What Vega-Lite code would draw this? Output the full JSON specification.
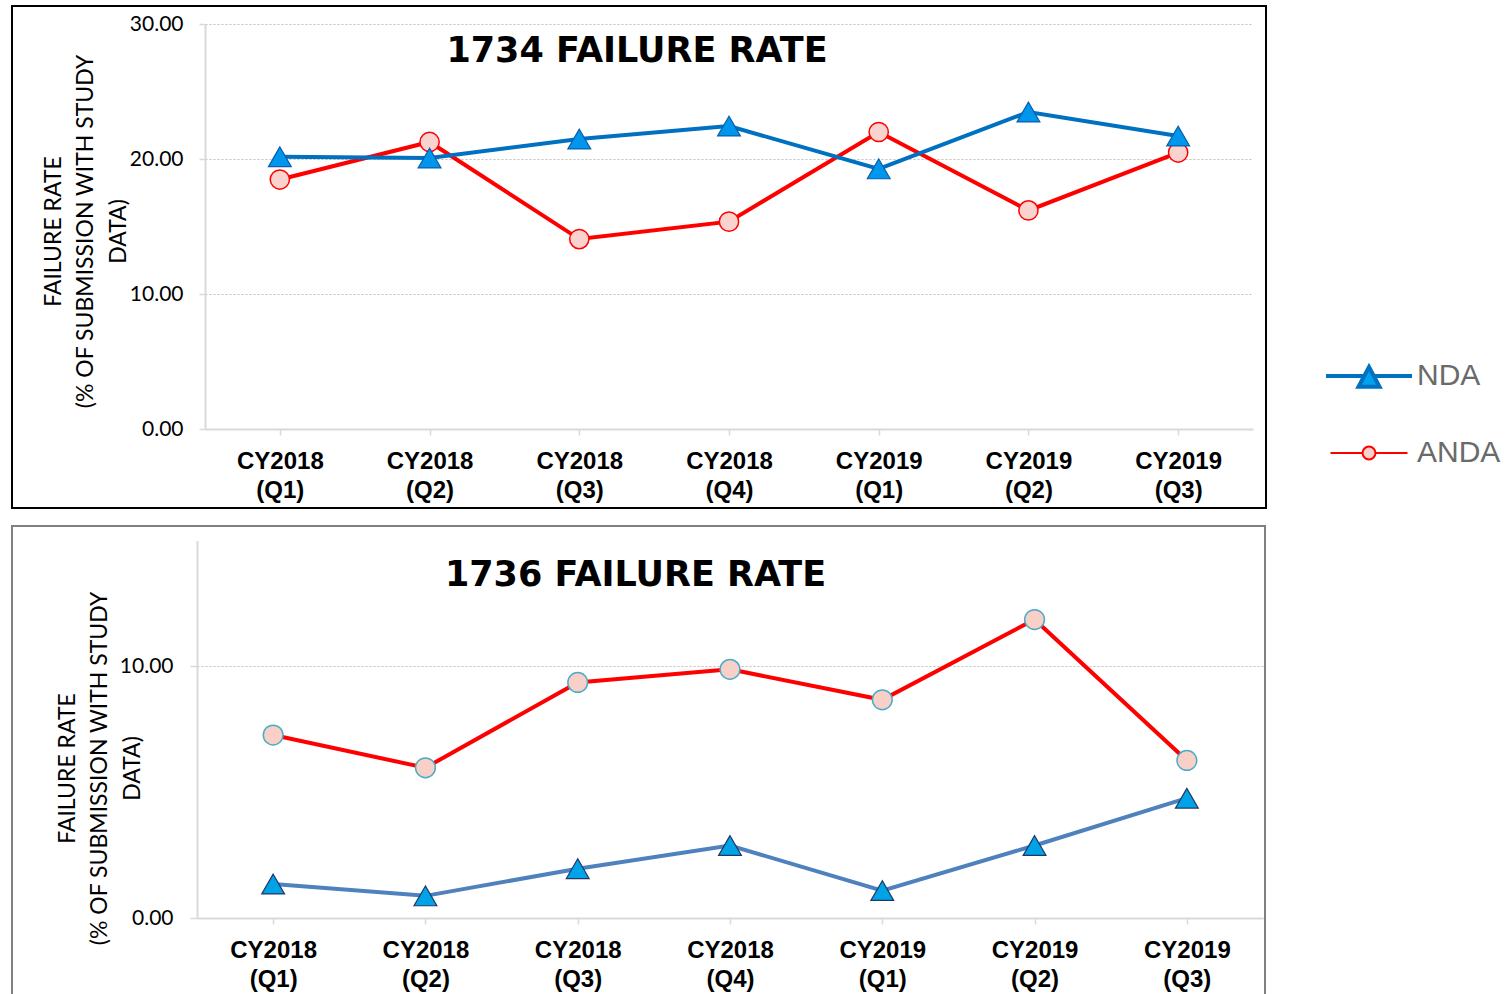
{
  "$schema": "https://vega.github.io/schema/vega-lite/v6.json",
  "background": "white",
  "padding": {"left": 11, "top": 5, "right": 0, "bottom": 0},
  "spacing": 16,
  "datasets": {
    "d1734": [
      {"period": "CY2018 (Q1)", "series": "NDA", "value": 20.17},
      {"period": "CY2018 (Q2)", "series": "NDA", "value": 20.07},
      {"period": "CY2018 (Q3)", "series": "NDA", "value": 21.48},
      {"period": "CY2018 (Q4)", "series": "NDA", "value": 22.44},
      {"period": "CY2019 (Q1)", "series": "NDA", "value": 19.27},
      {"period": "CY2019 (Q2)", "series": "NDA", "value": 23.48},
      {"period": "CY2019 (Q3)", "series": "NDA", "value": 21.7},
      {"period": "CY2018 (Q1)", "series": "ANDA", "value": 18.48},
      {"period": "CY2018 (Q2)", "series": "ANDA", "value": 21.26},
      {"period": "CY2018 (Q3)", "series": "ANDA", "value": 14.07},
      {"period": "CY2018 (Q4)", "series": "ANDA", "value": 15.36},
      {"period": "CY2019 (Q1)", "series": "ANDA", "value": 22.0},
      {"period": "CY2019 (Q2)", "series": "ANDA", "value": 16.19},
      {"period": "CY2019 (Q3)", "series": "ANDA", "value": 20.48}
    ],
    "d1736": [
      {"period": "CY2018 (Q1)", "series": "NDA", "value": 1.35},
      {"period": "CY2018 (Q2)", "series": "NDA", "value": 0.88},
      {"period": "CY2018 (Q3)", "series": "NDA", "value": 1.96},
      {"period": "CY2018 (Q4)", "series": "NDA", "value": 2.88},
      {"period": "CY2019 (Q1)", "series": "NDA", "value": 1.09},
      {"period": "CY2019 (Q2)", "series": "NDA", "value": 2.88},
      {"period": "CY2019 (Q3)", "series": "NDA", "value": 4.76},
      {"period": "CY2018 (Q1)", "series": "ANDA", "value": 7.27},
      {"period": "CY2018 (Q2)", "series": "ANDA", "value": 5.97},
      {"period": "CY2018 (Q3)", "series": "ANDA", "value": 9.36},
      {"period": "CY2018 (Q4)", "series": "ANDA", "value": 9.88},
      {"period": "CY2019 (Q1)", "series": "ANDA", "value": 8.67},
      {"period": "CY2019 (Q2)", "series": "ANDA", "value": 11.86},
      {"period": "CY2019 (Q3)", "series": "ANDA", "value": 6.26}
    ]
  },
  "vconcat": [
    {
      "width": 1254,
      "height": 502,
      "view": {"stroke": "#000000", "strokeWidth": 2},
      "data": {"name": "d1734"},
      "title": {
        "text": "1734 FAILURE RATE",
        "font": "DejaVu Sans",
        "fontSize": 35,
        "fontWeight": "bold",
        "color": "#000000",
        "anchor": "middle",
        "frame": "group",
        "orient": "top",
        "baseline": "alphabetic",
        "offset": -91,
        "dx": -2
      },
      "encoding": {
        "x": {
          "field": "period",
          "type": "ordinal",
          "sort": ["CY2018 (Q1)", "CY2018 (Q2)", "CY2018 (Q3)", "CY2018 (Q4)", "CY2019 (Q1)", "CY2019 (Q2)", "CY2019 (Q3)"],
          "scale": {"type": "point", "padding": 0.5, "range": [193, 1241]},
          "axis": {
            "title": null,
            "orient": "bottom",
            "offset": -79,
            "labelExpr": "split(datum.label, ' ')",
            "labelFont": "Liberation Sans",
            "labelFontSize": 24,
            "labelFontWeight": "bold",
            "labelColor": "#000000",
            "labelLineHeight": 29,
            "labelPadding": 14,
            "labelAngle": 0,
            "labelLimit": 0,
            "labelOverlap": false,
            "tickSize": 6,
            "tickColor": "#d9d9d9",
            "tickWidth": 1.5,
            "domainColor": "#d9d9d9",
            "domainWidth": 2,
            "grid": false,
            "encode": {"ticks": {"update": {"y": {"value": -6}, "y2": {"value": 6}}}}
          }
        },
        "y": {
          "field": "value",
          "type": "quantitative",
          "scale": {"domain": [0, 30], "range": [423, 18], "nice": false},
          "axis": {
            "title": ["FAILURE RATE", "(% OF SUBMISSION WITH STUDY", "DATA)"],
            "orient": "left",
            "offset": -193,
            "values": [0, 10, 20, 30],
            "format": ".2f",
            "labelFont": "Lato",
            "labelFontSize": 21,
            "labelColor": "#000000",
            "labelPadding": 16,
            "tickSize": 6,
            "tickColor": "#d9d9d9",
            "tickWidth": 1.5,
            "domainColor": "#d9d9d9",
            "domainWidth": 2,
            "grid": true,
            "gridColor": "#bfbfbf",
            "gridDash": [2, 2],
            "gridWidth": 1,
            "titleFont": "Lato",
            "titleFontSize": 23,
            "titleFontWeight": "normal",
            "titleColor": "#000000",
            "titleLineHeight": 32.5,
            "titleX": -152,
            "titleY": 225,
            "titleAngle": 270,
            "titleAlign": "center",
            "titleBaseline": "middle",
            "encode": {"ticks": {"update": {"x": {"value": -6}, "x2": {"value": 6}}}}
          }
        }
      },
      "layer": [
        {
          "transform": [{"filter": "datum.series === 'ANDA'"}],
          "mark": {"type": "line", "strokeWidth": 4},
          "encoding": {
            "stroke": {
              "field": "series",
              "type": "nominal",
              "scale": {"domain": ["NDA", "ANDA"], "range": ["#0070C0", "#FF0000"]},
              "legend": {
                "orient": "none",
                "legendX": 1342,
                "legendY": 355,
                "title": null,
                "padding": 0,
                "symbolSize": 1849,
                "symbolType": "M-2,0H2",
                "labelFont": "Liberation Sans",
                "labelFontSize": 30,
                "labelColor": "#6a6a6a",
                "labelOffset": 33,
                "rowPadding": 43,
                "encode": {
                  "symbols": {
                    "update": {
                      "shape": {"signal": "datum.value === 'NDA' ? 'M-2,0H-0.224M0.224,0H2M0,-0.42L0.49,0.5L-0.49,0.5Z' : 'M-1.79,0H-0.3M0.3,0H1.79M-0.3,0A0.3,0.3 0 1,0 0.3,0A0.3,0.3 0 1,0 -0.3,0Z'"},
                      "fill": {"signal": "datum.value === 'NDA' ? '#00A2EE' : '#FAD0CB'"},
                      "stroke": {"signal": "datum.value === 'NDA' ? '#4472C4' : '#FF0000'"},
                      "strokeWidth": {"signal": "datum.value === 'NDA' ? 4 : 2"},
                      "opacity": {"value": 1},
                      "fillOpacity": {"value": 1},
                      "strokeOpacity": {"value": 1}
                    }
                  }
                }
              }
            }
          }
        },
        {
          "transform": [{"filter": "datum.series === 'ANDA'"}],
          "mark": {"type": "point", "shape": "circle", "filled": true, "fill": "#FBD3CE", "stroke": "#FF0000", "strokeWidth": 1.5, "size": 370, "opacity": 1}
        },
        {
          "transform": [{"filter": "datum.series === 'NDA'"}],
          "mark": {"type": "line", "strokeWidth": 4},
          "encoding": {
            "stroke": {"field": "series", "type": "nominal"}
          }
        },
        {
          "transform": [{"filter": "datum.series === 'NDA'"}],
          "mark": {"type": "point", "shape": "triangle-up", "filled": true, "fill": "#0096EE", "stroke": "#0A5FA8", "strokeWidth": 1.2, "size": 520, "opacity": 1}
        }
      ]
    },
    {
      "width": 1253,
      "height": 484,
      "view": {"stroke": "#808080", "strokeWidth": 2},
      "data": {"name": "d1736"},
      "title": {
        "text": "1736 FAILURE RATE",
        "font": "DejaVu Sans",
        "fontSize": 35,
        "fontWeight": "bold",
        "color": "#000000",
        "anchor": "middle",
        "frame": "group",
        "orient": "top",
        "baseline": "alphabetic",
        "offset": -95,
        "dx": -3
      },
      "encoding": {
        "x": {
          "field": "period",
          "type": "ordinal",
          "sort": ["CY2018 (Q1)", "CY2018 (Q2)", "CY2018 (Q3)", "CY2018 (Q4)", "CY2019 (Q1)", "CY2019 (Q2)", "CY2019 (Q3)"],
          "scale": {"type": "point", "padding": 0.5, "range": [185, 1251]},
          "axis": {
            "title": null,
            "orient": "bottom",
            "offset": -92,
            "labelExpr": "split(datum.label, ' ')",
            "labelFont": "Liberation Sans",
            "labelFontSize": 24,
            "labelFontWeight": "bold",
            "labelColor": "#000000",
            "labelLineHeight": 29,
            "labelPadding": 14,
            "labelAngle": 0,
            "labelLimit": 0,
            "labelOverlap": false,
            "tickSize": 6,
            "tickColor": "#d9d9d9",
            "tickWidth": 1.5,
            "domainColor": "#d9d9d9",
            "domainWidth": 2,
            "grid": false,
            "encode": {"ticks": {"update": {"y": {"value": -6}, "y2": {"value": 6}}}}
          }
        },
        "y": {
          "field": "value",
          "type": "quantitative",
          "scale": {"domain": [0, 15], "range": [392, 14.5], "nice": false},
          "axis": {
            "title": ["FAILURE RATE", "(% OF SUBMISSION WITH STUDY", "DATA)"],
            "orient": "left",
            "offset": -185,
            "values": [0, 10],
            "format": ".2f",
            "labelFont": "Lato",
            "labelFontSize": 21,
            "labelColor": "#000000",
            "labelPadding": 17,
            "tickSize": 7,
            "tickColor": "#d9d9d9",
            "tickWidth": 1.5,
            "domainColor": "#d9d9d9",
            "domainWidth": 2,
            "grid": true,
            "gridColor": "#bfbfbf",
            "gridDash": [2, 2],
            "gridWidth": 1,
            "titleFont": "Lato",
            "titleFontSize": 23,
            "titleFontWeight": "normal",
            "titleColor": "#000000",
            "titleLineHeight": 32.5,
            "titleX": -130,
            "titleY": 242,
            "titleAngle": 270,
            "titleAlign": "center",
            "titleBaseline": "middle"
          }
        }
      },
      "layer": [
        {
          "transform": [{"filter": "datum.series === 'NDA'"}],
          "mark": {"type": "line", "strokeWidth": 4, "color": "#4F81BD"}
        },
        {
          "transform": [{"filter": "datum.series === 'NDA'"}],
          "mark": {"type": "point", "shape": "triangle-up", "filled": true, "fill": "#00A3E8", "stroke": "#203864", "strokeWidth": 1.2, "size": 520, "opacity": 1}
        },
        {
          "transform": [{"filter": "datum.series === 'ANDA'"}],
          "mark": {"type": "line", "strokeWidth": 4, "color": "#FF0000"}
        },
        {
          "transform": [{"filter": "datum.series === 'ANDA'"}],
          "mark": {"type": "point", "shape": "circle", "filled": true, "fill": "#F9D0C8", "stroke": "#4BACC6", "strokeWidth": 1.5, "size": 390, "opacity": 1}
        }
      ]
    }
  ]
}
